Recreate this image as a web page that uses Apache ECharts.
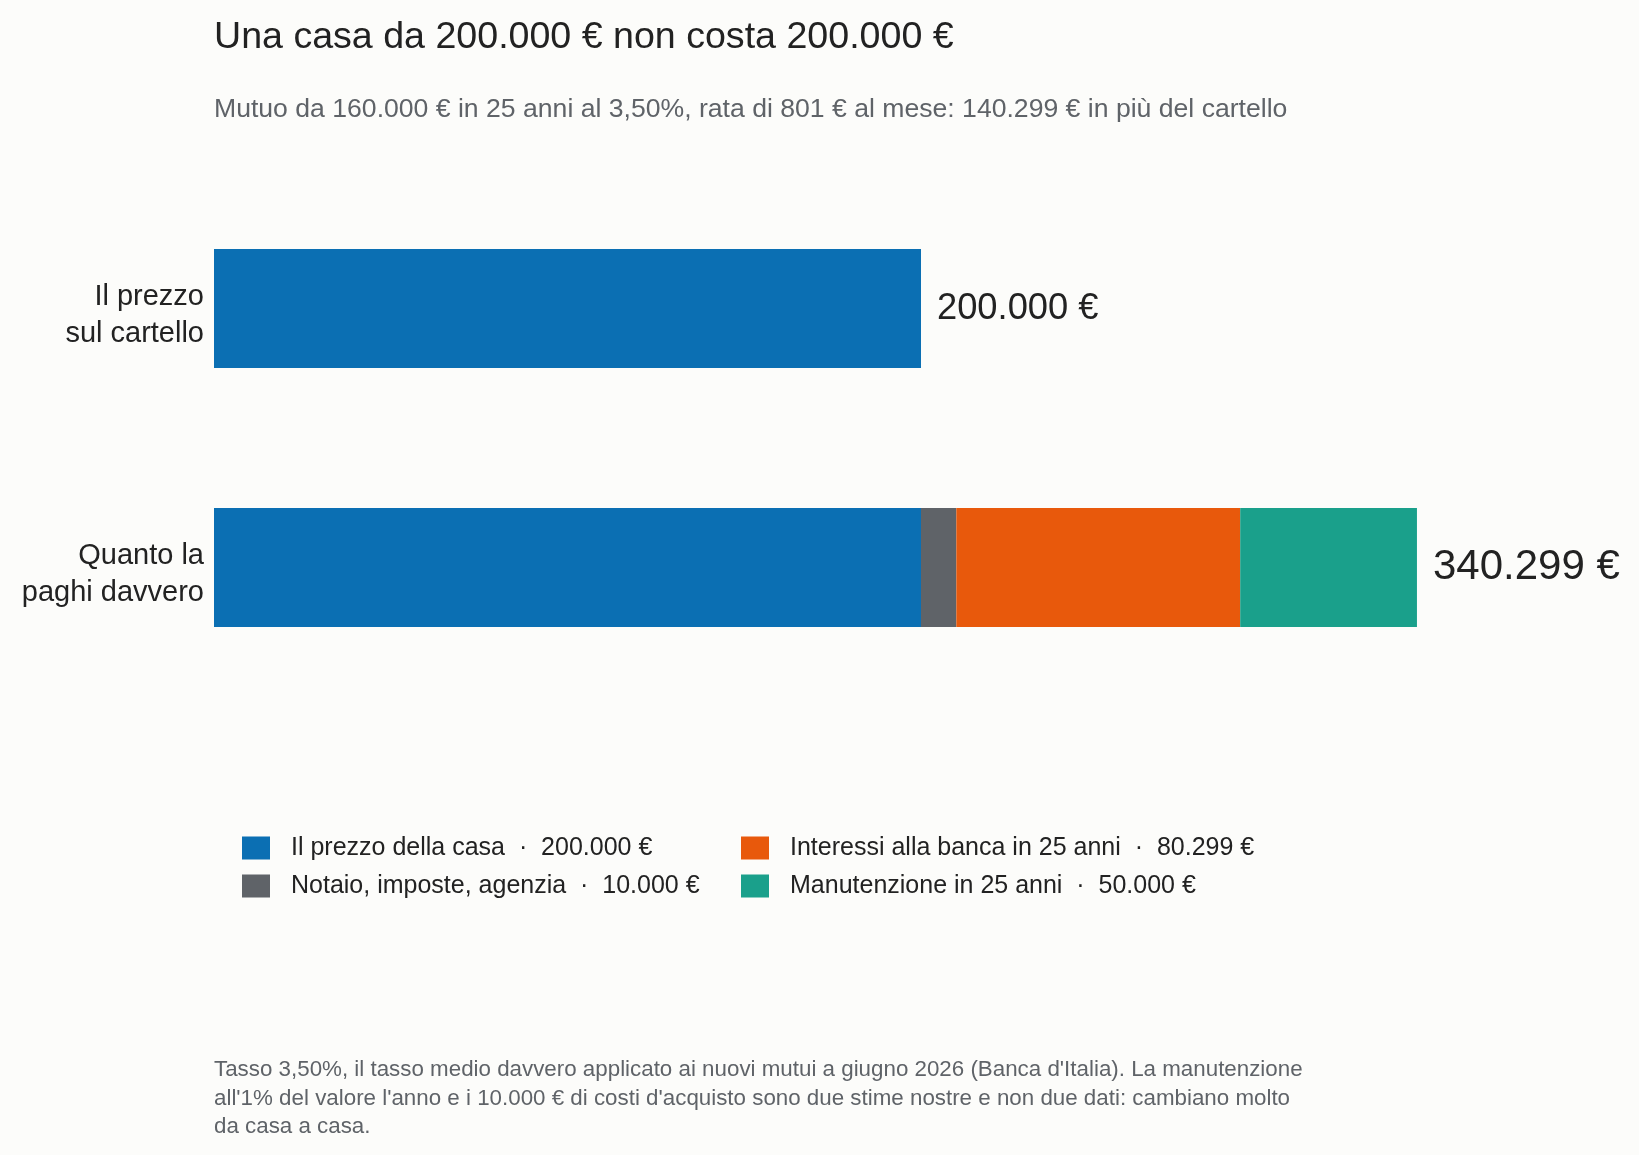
<!DOCTYPE html>
<html>
<head>
<meta charset="utf-8">
<script src="https://cdn.jsdelivr.net/npm/echarts@6/dist/echarts.min.js"></script>
<style>
  html, body { margin: 0; padding: 0; background: #fcfcfa; }
  #main { width: 1639px; height: 1155px; }
</style>
</head>
<body>
<div id="main"></div>
<script>
// dati del grafico
var categorie = ['Il prezzo\nsul cartello', 'Quanto la\npaghi davvero'];
var voci = ['Il prezzo della casa', 'Notaio, imposte, agenzia', 'Interessi alla banca in 25 anni', 'Manutenzione in 25 anni'];
var prezzo = [200000, 200000];
var notaio = [null, 10000];
var interessi = [null, 80299];
var manutenzione = [null, 50000];
var totali = [200000, 340299];
var colori = ['#0b6fb3', '#5f6368', '#e8590c', '#1aa08b'];

var font = '"Liberation Sans", Arial, Helvetica, sans-serif';

function fmt(n) {
    return String(n).replace(/\B(?=(\d{3})+(?!\d))/g, '.') + ' €';
}

var valoriVoci = {};
valoriVoci[voci[0]] = prezzo[0];
valoriVoci[voci[1]] = notaio[1];
valoriVoci[voci[2]] = interessi[1];
valoriVoci[voci[3]] = manutenzione[1];

var myChart = echarts.init(document.getElementById('main'));

function etichetta(i, size) {
    return {
        show: true,
        position: 'right',
        distance: 16,
        fontSize: size,
        color: '#222',
        fontFamily: font,
        formatter: function () { return fmt(totali[i]); }
    };
}

var serieDati = [
    [{ value: prezzo[0], label: etichetta(0, 36.3) }, prezzo[1]],
    notaio,
    interessi,
    [manutenzione[0], { value: manutenzione[1], label: etichetta(1, 42) }]
];

var series = voci.map(function (nome, k) {
    return {
        name: nome,
        type: 'bar',
        stack: 'totale',
        barWidth: 119,
        itemStyle: { color: colori[k] },
        emphasis: { disabled: true },
        data: serieDati[k]
    };
});

var legendaBase = {
    orient: 'vertical',
    top: 834,
    padding: 0,
    icon: 'rect',
    itemWidth: 28,
    itemHeight: 23,
    itemGap: 10,
    selectedMode: false,
    textStyle: { fontSize: 25, lineHeight: 23, color: '#222', fontFamily: font, padding: [5, 0, 0, 16] },
    formatter: function (name) { return name + '  ·  ' + fmt(valoriVoci[name]); }
};

var option = {
    backgroundColor: '#fcfcfa',
    animation: false,
    title: [
        {
            text: 'Una casa da 200.000 € non costa 200.000 €',
            left: 214, top: 19, padding: 0,
            textStyle: { fontSize: 37.6, fontWeight: 'normal', color: '#222', fontFamily: font }
        },
        {
            text: 'Mutuo da 160.000 € in 25 anni al 3,50%, rata di 801 € al mese: 140.299 € in più del cartello',
            left: 214, top: 96, padding: 0,
            textStyle: { fontSize: 26.6, fontWeight: 'normal', color: '#5f6368', fontFamily: font }
        },
        {
            text: "Tasso 3,50%, il tasso medio davvero applicato ai nuovi mutui a giugno 2026 (Banca d'Italia). La manutenzione\nall'1% del valore l'anno e i 10.000 € di costi d'acquisto sono due stime nostre e non due dati: cambiano molto\nda casa a casa.",
            left: 214, top: 1056, padding: 0,
            textStyle: { fontSize: 22.35, lineHeight: 28.3, fontWeight: 'normal', color: '#5f6368', fontFamily: font }
        }
    ],
    legend: [
        Object.assign({}, legendaBase, { left: 242, data: [voci[0], voci[1]] }),
        Object.assign({}, legendaBase, { left: 741, data: [voci[2], voci[3]] })
    ],
    grid: { left: 214, right: 11, top: 179, bottom: 458, containLabel: false },
    xAxis: {
        type: 'value',
        min: 0,
        max: 400000,
        show: false
    },
    yAxis: {
        type: 'category',
        inverse: true,
        data: categorie,
        axisLine: { show: false },
        axisTick: { show: false },
        splitLine: { show: false },
        axisLabel: {
            margin: 10, fontSize: 29, lineHeight: 37, color: '#222', fontFamily: font,
            align: 'right',
            // riga vuota in alto per abbassare un po' il testo
            formatter: function (v) { return '{s|}\n' + v; },
            rich: { s: { height: 14, lineHeight: 14 } }
        }
    },
    series: series
};

myChart.setOption(option);
</script>
</body>
</html>
